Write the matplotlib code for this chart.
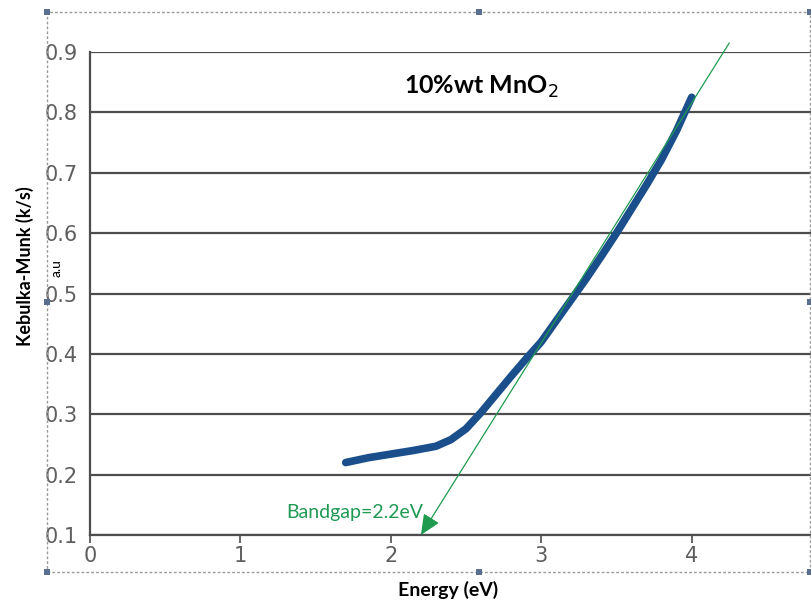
import matplotlib
matplotlib.use('Agg')
import matplotlib.pyplot as plt
from matplotlib.patches import Rectangle

# Kubelka-Munk curve
energy = [1.70, 1.85, 2.0, 2.15, 2.3, 2.4, 2.5, 2.6, 2.7, 2.8, 2.9, 3.0, 3.1, 3.2, 3.3, 3.4, 3.5, 3.6, 3.7, 3.8, 3.9, 4.0]
km = [0.220, 0.228, 0.234, 0.240, 0.247, 0.258, 0.276, 0.303, 0.333, 0.363, 0.392, 0.420, 0.455, 0.490, 0.525, 0.562, 0.600, 0.640, 0.680, 0.722, 0.770, 0.825]

# tangent (bandgap extrapolation)
tangent_x = [4.25, 2.2]
tangent_y = [0.915, 0.1]

x_ticks = [0, 1, 2, 3, 4]
y_ticks = [0.1, 0.2, 0.3, 0.4, 0.5, 0.6, 0.7, 0.8, 0.9]

W, H = 812, 605
fig = plt.figure(figsize=(W / 100, H / 100), dpi=100)
ax = fig.add_axes([90 / W, 1 - 535 / H, 1 - 90 / W, (535 - 52) / H])

ax.set_xlim(0, 4.8)
ax.set_ylim(0.1, 0.9)

grid_c = '#4d4d4d'
for y in y_ticks:
    ax.axhline(y, color=grid_c, lw=1.6, zorder=1)

ax.plot(energy, km, color='#1b4f8c', lw=5.5, solid_capstyle='round',
        solid_joinstyle='round', zorder=3)

ax.annotate('', xy=(tangent_x[1], tangent_y[1]), xytext=(tangent_x[0], tangent_y[0]),
            arrowprops=dict(arrowstyle='-|>,head_length=0.9,head_width=0.4',
                            color='#2a5e46', lw=0.9, shrinkA=0, shrinkB=0,
                            mutation_scale=14, fc='#1f9a4f', ec='#1f9a4f'),
            zorder=4)

ax.text(1.76, 0.138, 'Bandgap=2.2eV', color='#1f9a55', fontsize=14,
        family='Lato', ha='center', va='center')
ax.text(2.6, 0.842, '10%wt MnO$_2$', fontsize=18, fontweight='bold',
        family='Lato', ha='center', va='center')

for s in ['top', 'right']:
    ax.spines[s].set_visible(False)
ax.spines['left'].set_color(grid_c)
ax.spines['left'].set_linewidth(1.6)
ax.spines['bottom'].set_color(grid_c)
ax.spines['bottom'].set_linewidth(1.6)

ax.set_xticks(x_ticks)
ax.set_yticks(y_ticks)
ax.set_xticklabels([str(v) for v in x_ticks])
ax.set_yticklabels([f'{v:.1f}' for v in y_ticks])
ax.tick_params(axis='y', length=0, pad=9, labelsize=15, labelcolor='#5e5e5e')
ax.tick_params(axis='x', length=6, width=1.2, color=grid_c, pad=2,
               labelsize=15, labelcolor='#5e5e5e')

fig.text(448 / W, 1 - 590 / H, 'Energy (eV)', fontsize=14, fontweight='bold',
         family='Lato', ha='center', va='center')
fig.text(25 / W, 1 - 266 / H, 'Kebulka-Munk (k/s)', fontsize=13, fontweight='bold',
         family='Lato', rotation=90, ha='center', va='center')
fig.text(57 / W, 1 - 268 / H, 'a.u', fontsize=10, family='Lato',
         rotation=90, ha='center', va='center')

# dashed selection frame with handles
fx0, fy0, fx1, fy1 = 47, 12, 810, 572
fig.patches.append(Rectangle((fx0 / W, 1 - fy1 / H), (fx1 - fx0) / W, (fy1 - fy0) / H,
                             transform=fig.transFigure, fill=False, ec='#9a9a9a',
                             lw=1, ls=(0, (2, 1.5)), zorder=0))
handles_x = [fx0, (fx0 + fx1) / 2 + 50, fx1]
handles_y = [fy0, (fy0 + fy1) / 2 + 10, fy1]
for hx in handles_x:
    for hy in handles_y:
        if hx == handles_x[1] and hy == handles_y[1]:
            continue
        fig.patches.append(Rectangle(((hx - 3) / W, 1 - (hy + 3) / H), 6 / W, 6 / H,
                                     transform=fig.transFigure, fc='#5a6f8f',
                                     ec='none', zorder=5))

fig.savefig('out.png', dpi=100)
